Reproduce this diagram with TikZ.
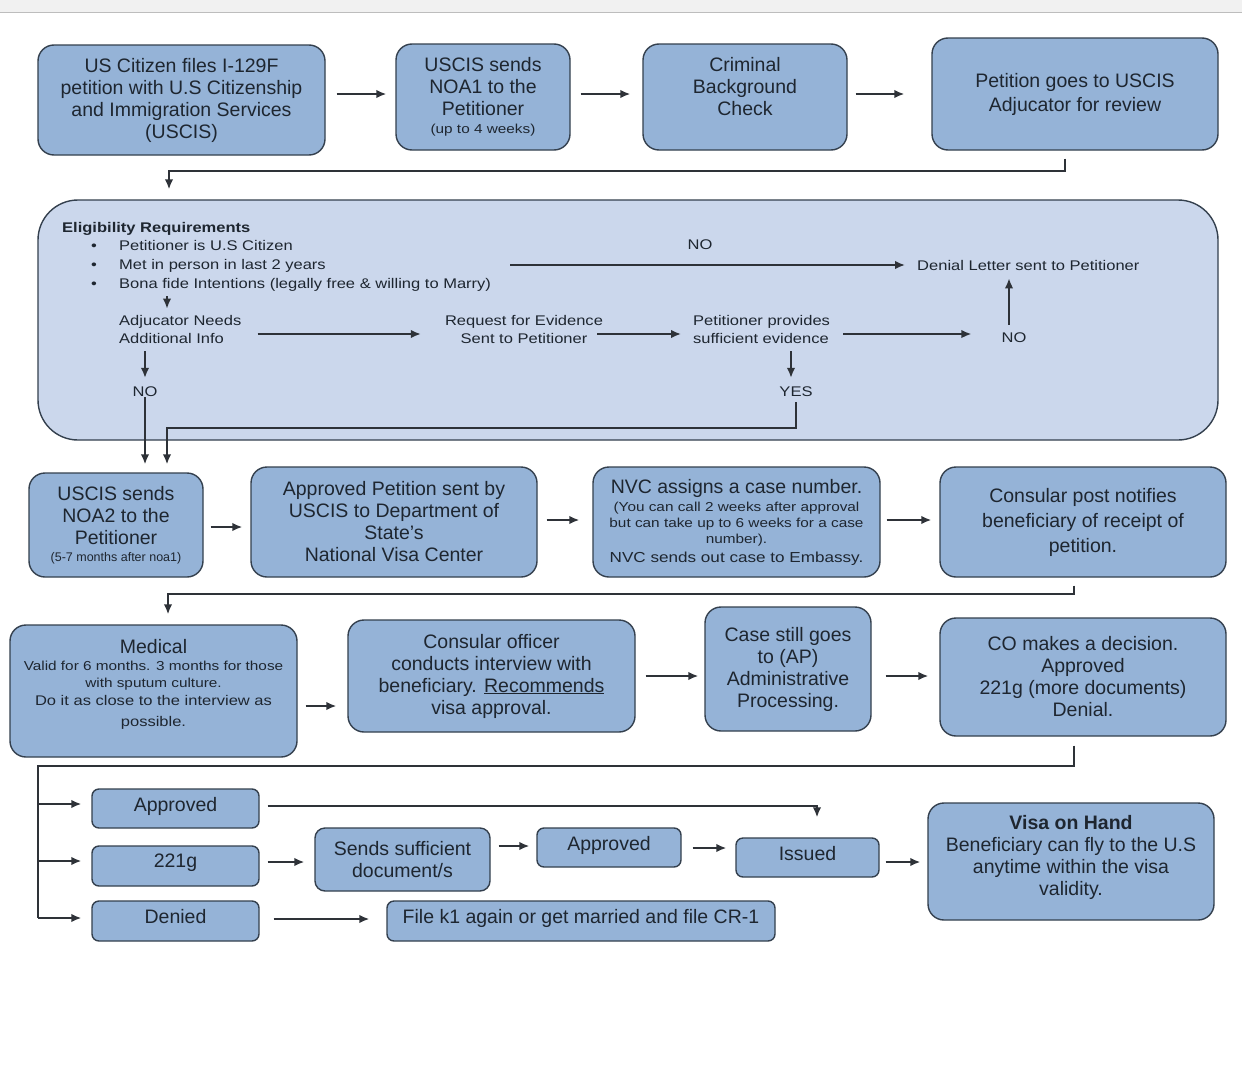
\documentclass[tikz,border=0pt]{standalone}
\usepackage{fontspec}
\setmainfont{Liberation Sans}
\newfontfamily\wide[FakeStretch=1.18]{Liberation Sans}
\usetikzlibrary{arrows.meta}
\definecolor{boxfill}{HTML}{95B3D7}
\definecolor{elfill}{HTML}{CBD7EC}
\definecolor{boxline}{HTML}{34404E}
\definecolor{txt}{HTML}{1E2630}
\definecolor{arrc}{HTML}{2E3238}
\definecolor{topgray}{HTML}{F1F1F1}
\definecolor{topline}{HTML}{BDBDBD}
\newcommand{\fs}[2]{\fontsize{#1}{#2}\selectfont}
\begin{document}
\begin{tikzpicture}[x=1pt,y=-1pt,
 box/.style={draw=boxline, line width=1.4pt, fill=boxfill, rounded corners=16pt, align=center, inner sep=2pt, text=txt, font=\fs{19.5}{22}},
 arr/.style={-{Latex[length=10pt,width=8.5pt]}, line width=1.8pt, draw=arrc},
 ln/.style={line width=1.8pt, draw=arrc},
 lbl/.style={text=txt, font=\wide\fs{14}{18}, inner sep=0pt},
]
\useasboundingbox (0,0) rectangle (1242,1068);
\fill[white] (0,0) rectangle (1242,1068);
\fill[topgray] (0,0) rectangle (1242,12);
\draw[topline, line width=1pt] (0,12) -- (1242,12);

% Row 1
\node[box, minimum width=287pt, minimum height=110pt] (b1) at (181.5,100) {US Citizen files I-129F\\petition with U.S Citizenship\\and Immigration Services\\(USCIS)};
\node[box, minimum width=174pt, minimum height=106pt] (b2) at (483,97) {USCIS sends\\NOA1 to the\\Petitioner\\[-4pt]{\wide\fs{13}{14}(up to 4 weeks)}};
\node[box, minimum width=204pt, minimum height=106pt] (b3) at (745,97) {Criminal\\Background\\Check\\\mbox{}};
\node[box, minimum width=286pt, minimum height=112pt, font=\fs{19.5}{24}] (b4) at (1075,94) {Petition goes to USCIS\\Adjucator for review};

\draw[arr, shorten <=11pt, shorten >=9pt] ([yshift=6pt]b1.east) -- ([yshift=6pt]b1.east -| b2.west);
\draw[arr, shorten <=10pt, shorten >=12pt] ([yshift=3pt]b2.east) -- ([yshift=3pt]b2.east -| b3.west);
\draw[arr, shorten <=8pt, shorten >=27pt] ([yshift=3pt]b3.east) -- ([yshift=3pt]b3.east -| b4.west);

% Eligibility box
\node[draw=boxline, line width=1.4pt, fill=elfill, rounded corners=40pt, minimum width=1180pt, minimum height=240pt] (el) at (628,320) {};
\coordinate (c1) at (169,171);
\draw[arr, shorten <=8pt, shorten >=10pt] ([xshift=-10pt]b4.south) |- (c1) -- (c1 |- el.north);

\node[lbl, font=\wide\fs{14}{18}\bfseries, anchor=base west] (elt) at (62,232) {Eligibility Requirements};
\node[lbl, anchor=base west] (r1) at (91,250) {\makebox[28pt][l]{•}Petitioner is U.S Citizen};
\node[lbl, anchor=base west] (r2) at (91,269) {\makebox[28pt][l]{•}Met in person in last 2 years};
\node[lbl, anchor=base west] (r3) at (91,288) {\makebox[28pt][l]{•}Bona fide Intentions (legally free \& willing to Marry)};

\node[lbl, align=left, anchor=west] (adj) at (119,329) {Adjucator Needs\\Additional Info};
\node[lbl, align=center] (rfe) at (524,329) {Request for Evidence\\Sent to Petitioner};
\node[lbl, align=left, anchor=west] (pse) at (693,329) {Petitioner provides\\sufficient evidence};
\node[lbl] (no2) at (1014,338) {NO};
\node[lbl, anchor=west] (den) at (917,265) {Denial Letter sent to Petitioner};
\node[lbl] (no1) at (700,245) {NO};
\node[lbl] (no3) at (145,392) {NO};
\node[lbl] (yes) at (796,392) {YES};
\coordinate (nostart) at (510,265);

\draw[arr, shorten <=5pt, shorten >=6pt] (r3.south -| 167,0) -- (adj.north -| 167,0);
\draw[arr, shorten <=16pt, shorten >=24pt] ([yshift=-5pt]adj.east) -- ([yshift=-5pt]rfe.west);
\draw[arr, shorten <=-6pt, shorten >=12pt] ([yshift=-5pt]rfe.east) -- ([yshift=-5pt]pse.west);
\draw[arr, shorten <=13pt, shorten >=30pt] ([yshift=-5pt]pse.east) -- ([yshift=4pt]no2.west);
\draw[arr, shorten <=8pt, shorten >=8pt] ([xshift=-5pt]no2.north) -- ([xshift=-5pt]no2.north |- den.south);
\draw[arr, shorten >=12pt] (nostart) -- (den.west);
\draw[arr, shorten <=8pt, shorten >=9pt] (adj.south -| no3.north) -- (no3.north);
\draw[arr, shorten <=8pt, shorten >=9pt] (pse.south -| 791,0) -- (yes.north -| 791,0);

% Row 3
\node[box, minimum width=174pt, minimum height=104pt] (b5) at (116,525) {USCIS sends\\NOA2 to the\\Petitioner\\[-5pt]{\fs{12.5}{13}(5-7 months after noa1)}};
\node[box, minimum width=286pt, minimum height=110pt] (b6) at (394,522) {Approved Petition sent by\\USCIS to Department of\\State's\\National Visa Center};
\node[box, minimum width=287pt, minimum height=110pt] (b7) at (736.5,522) {NVC assigns a case number.\\[-4pt]{\wide\fs{13}{16}(You can call 2 weeks after approval}\\[-6pt]{\wide\fs{13}{16}but can take up to 6 weeks for a case}\\[-6pt]{\wide\fs{13}{16}number).}\\[-3pt]{\wide\fs{14.5}{18}NVC sends out case to Embassy.}};
\node[box, minimum width=286pt, minimum height=110pt, font=\fs{19.5}{25}] (b8) at (1083,522) {Consular post notifies\\beneficiary of receipt of\\petition.};

\coordinate (yc) at (167,428);
\draw[arr, shorten >=8pt] (no3.south) -- (no3.south |- b5.north);
\draw[arr, shorten <=5pt, shorten >=8pt] (yes.south) |- (yc) -- (yc |- b5.north);

\draw[arr, shorten <=7pt, shorten >=8pt] ([yshift=-2pt]b5.east) -- ([yshift=-2pt]b5.east -| b6.west);
\draw[arr, shorten <=9pt, shorten >=13pt] ([yshift=2pt]b6.east) -- ([yshift=2pt]b6.east -| b7.west);
\draw[arr, shorten <=6pt, shorten >=8pt] ([yshift=2pt]b7.east) -- ([yshift=2pt]b7.east -| b8.west);

% Row 4
\node[box, minimum width=287pt, minimum height=132pt] (b9) at (153.5,691) {Medical\\[-5pt]{\wide\fs{13}{17}Valid for 6 months. 3 months for those}\\[-5pt]{\wide\fs{13}{17}with sputum culture.}\\[-4pt]{\wide\fs{14}{18}Do it as close to the interview as}\\[-1pt]{\wide\fs{14}{18}possible.}\\[-6pt]\mbox{}};
\node[box, minimum width=287pt, minimum height=112pt] (b10) at (491.5,676) {Consular officer\\conducts interview with\\beneficiary. \underline{Recommends}\\visa approval.};
\node[box, minimum width=166pt, minimum height=124pt] (b11) at (788,669) {Case still goes\\to (AP)\\Administrative\\Processing.};
\node[box, minimum width=286pt, minimum height=118pt] (b12) at (1083,677) {CO makes a decision.\\Approved\\221g (more documents)\\Denial.};

\coordinate (c2) at (168,594);
\draw[arr, shorten <=8pt, shorten >=10pt] ([xshift=-9pt]b8.south) |- (c2) -- (c2 |- b9.north);

\draw[arr, shorten <=8pt, shorten >=11pt] ([yshift=-15pt]b9.east) -- ([yshift=-15pt]b9.east -| b10.west);
\draw[arr, shorten <=10pt, shorten >=6pt] (b10.east) -- (b10.east -| b11.west);
\draw[arr, shorten <=14pt, shorten >=11pt] ([yshift=-7pt]b11.east) -- ([yshift=-7pt]b11.east -| b12.west);

% Row 5
\node[box, rounded corners=7pt, minimum width=167pt, minimum height=39pt] (ap1) at (175.5,808.5) {Approved\\[-13pt]\mbox{}};
\node[box, rounded corners=7pt, minimum width=167pt, minimum height=40pt] (g221) at (175.5,866) {221g\\[-12pt]\mbox{}};
\node[box, rounded corners=7pt, minimum width=167pt, minimum height=40pt] (dn) at (175.5,921) {Denied\\[-12pt]\mbox{}};
\node[box, rounded corners=10pt, minimum width=175pt, minimum height=63pt] (snd) at (402.5,859.5) {Sends sufficient\\document/s};
\node[box, rounded corners=7pt, minimum width=144pt, minimum height=39pt] (ap2) at (609,847.5) {Approved\\[-13pt]\mbox{}};
\node[box, rounded corners=7pt, minimum width=143pt, minimum height=39pt] (iss) at (807.5,857.5) {Issued\\[-13pt]\mbox{}};
\node[box, minimum width=286pt, minimum height=117pt] (visa) at (1071,861.5) {\textbf{Visa on Hand}\\Beneficiary can fly to the U.S\\anytime within the visa\\validity.\\[-10pt]\mbox{}};
\node[box, rounded corners=7pt, minimum width=388pt, minimum height=40pt] (fk1) at (581,921) {File k1 again or get married and file CR-1\\[-12pt]\mbox{}};

\coordinate (tr) at (38,766);
\coordinate (tb) at (38,918);
\draw[ln, shorten <=9pt] ([xshift=-9pt]b12.south) |- (tr) -- (tb);
\draw[arr, shorten >=10pt] (tr |- 0,804) -- (ap1.west |- 0,804);
\draw[arr, shorten >=10pt] (tr |- 0,861) -- (g221.west |- 0,861);
\draw[arr, shorten >=10pt] (tb) -- (dn.west |- tb);

\draw[arr, shorten <=8pt, shorten >=10pt] ([yshift=2.5pt]ap1.east) -| ([xshift=9.5pt,yshift=10pt]iss.north);
\draw[arr, shorten <=8pt, shorten >=10pt] ([yshift=4pt]g221.east) -- ([yshift=4pt]g221.east -| snd.west);
\draw[arr, shorten <=8pt, shorten >=7pt] ([yshift=1.5pt]snd.east |- ap2.west) -- ([yshift=1.5pt]ap2.west);
\draw[arr, shorten <=11pt, shorten >=9pt] ([yshift=-0.5pt]ap2.east) -- ([yshift=-0.5pt]ap2.east -| iss.west);
\draw[arr, shorten <=6pt, shorten >=7pt] ([yshift=-4.5pt]iss.east) -- ([yshift=-4.5pt]iss.east -| visa.west);
\draw[arr, shorten <=14pt, shorten >=17pt] ([yshift=2pt]dn.east) -- ([yshift=2pt]dn.east -| fk1.west);
\end{tikzpicture}
\end{document}
